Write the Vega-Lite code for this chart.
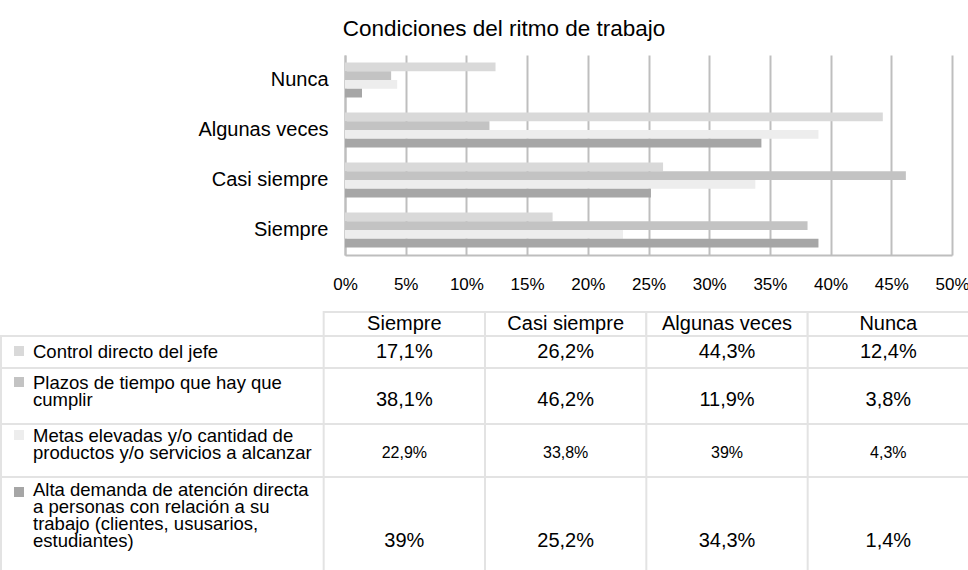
{
  "$schema": "https://vega.github.io/schema/vega-lite/v6.json",
  "padding": {"top": 17, "left": 0, "right": 0, "bottom": 0},
  "background": "white",
  "config": {
    "font": "Liberation Sans, Arial, sans-serif",
    "locale": {"number": {"decimal": ",", "thousands": ".", "grouping": [3], "currency": ["", " €"]}},
    "view": {"stroke": null},
    "axis": {"labelColor": "#000000"},
    "text": {"color": "#000000"}
  },
  "datasets": {
    "valores": [
      {"serie": "Control directo del jefe", "categoria": "Siempre", "valor": 0.171},
      {"serie": "Control directo del jefe", "categoria": "Casi siempre", "valor": 0.262},
      {"serie": "Control directo del jefe", "categoria": "Algunas veces", "valor": 0.443},
      {"serie": "Control directo del jefe", "categoria": "Nunca", "valor": 0.124},
      {"serie": "Plazos de tiempo que hay que cumplir", "categoria": "Siempre", "valor": 0.381},
      {"serie": "Plazos de tiempo que hay que cumplir", "categoria": "Casi siempre", "valor": 0.462},
      {"serie": "Plazos de tiempo que hay que cumplir", "categoria": "Algunas veces", "valor": 0.119},
      {"serie": "Plazos de tiempo que hay que cumplir", "categoria": "Nunca", "valor": 0.038},
      {"serie": "Metas elevadas y/o cantidad de productos y/o servicios a alcanzar", "categoria": "Siempre", "valor": 0.229},
      {"serie": "Metas elevadas y/o cantidad de productos y/o servicios a alcanzar", "categoria": "Casi siempre", "valor": 0.338},
      {"serie": "Metas elevadas y/o cantidad de productos y/o servicios a alcanzar", "categoria": "Algunas veces", "valor": 0.39},
      {"serie": "Metas elevadas y/o cantidad de productos y/o servicios a alcanzar", "categoria": "Nunca", "valor": 0.043},
      {"serie": "Alta demanda de atención directa a personas con relación a su trabajo (clientes, ususarios, estudiantes)", "categoria": "Siempre", "valor": 0.39},
      {"serie": "Alta demanda de atención directa a personas con relación a su trabajo (clientes, ususarios, estudiantes)", "categoria": "Casi siempre", "valor": 0.252},
      {"serie": "Alta demanda de atención directa a personas con relación a su trabajo (clientes, ususarios, estudiantes)", "categoria": "Algunas veces", "valor": 0.343},
      {"serie": "Alta demanda de atención directa a personas con relación a su trabajo (clientes, ususarios, estudiantes)", "categoria": "Nunca", "valor": 0.014}
    ],
    "series": [
      {"serie": "Control directo del jefe", "rotulo": "Control directo del jefe"},
      {"serie": "Plazos de tiempo que hay que cumplir", "rotulo": "Plazos de tiempo que hay que\ncumplir"},
      {"serie": "Metas elevadas y/o cantidad de productos y/o servicios a alcanzar", "rotulo": "Metas elevadas y/o cantidad de\nproductos y/o servicios a alcanzar"},
      {"serie": "Alta demanda de atención directa a personas con relación a su trabajo (clientes, ususarios, estudiantes)", "rotulo": "Alta demanda de atención directa\na personas con relación a su\ntrabajo (clientes, ususarios,\nestudiantes)"}
    ]
  },
  "spacing": 19,
  "resolve": {"scale": {"x": "independent", "y": "independent"}},
  "vconcat": [
    {
      "width": 968,
      "height": 200,
      "title": {"text": "Condiciones del ritmo de trabajo", "fontSize": 22.5, "fontWeight": "normal", "color": "#000000", "anchor": "middle", "frame": "group", "dx": 19, "offset": 15},
      "data": {"name": "valores"},
      "mark": {"type": "bar"},
      "encoding": {
        "y": {"field": "categoria", "type": "nominal", "sort": ["Nunca", "Algunas veces", "Casi siempre", "Siempre"],
              "scale": {"paddingInner": 0.3, "paddingOuter": 0.15},
              "axis": {"title": null, "ticks": false, "offset": -344, "labelFontSize": 20, "labelPadding": 17, "domainColor": "#BEBEBE", "domainWidth": 2, "minExtent": 0, "maxExtent": 0, "labelLimit": 320}},
        "yOffset": {"field": "serie", "type": "nominal",
              "sort": ["Control directo del jefe", "Plazos de tiempo que hay que cumplir", "Metas elevadas y/o cantidad de productos y/o servicios a alcanzar", "Alta demanda de atención directa a personas con relación a su trabajo (clientes, ususarios, estudiantes)"],
              "scale": {"paddingInner": 0, "paddingOuter": 0}},
        "x": {"field": "valor", "type": "quantitative", "scale": {"domain": [0, 0.5], "nice": false, "range": [344, 951]},
              "axis": {"title": null, "format": "%", "values": [0, 0.05, 0.1, 0.15, 0.2, 0.25, 0.3, 0.35, 0.4, 0.45, 0.5], "ticks": false, "grid": true, "gridColor": "#BEBEBE", "gridWidth": 2, "domainColor": "#BEBEBE", "domainWidth": 2, "labelFontSize": 17, "labelPadding": 21, "labelFlush": false}},
        "color": {"field": "serie", "type": "nominal",
              "scale": {"domain": ["Control directo del jefe", "Plazos de tiempo que hay que cumplir", "Metas elevadas y/o cantidad de productos y/o servicios a alcanzar", "Alta demanda de atención directa a personas con relación a su trabajo (clientes, ususarios, estudiantes)"],
                        "range": ["#D9D9D9", "#C3C3C3", "#EDEDED", "#A6A6A6"]},
              "legend": null}
      }
    },
    {
      "spacing": 0,
      "bounds": "flush",
      "resolve": {"scale": {"x": "independent", "y": "independent"}},
      "vconcat": [
        {
          "width": 968,
          "height": 24,
          "data": {"name": "valores"},
          "transform": [{"filter": {"field": "serie", "equal": "Control directo del jefe"}}],
          "layer": [
            {"mark": {"type": "rect", "fill": "#FFFFFF", "stroke": "#E3E3E3", "strokeWidth": 2},
             "encoding": {"x": {"field": "categoria", "type": "nominal", "scale": {"domain": ["r1", "r2", "Siempre", "Casi siempre", "Algunas veces", "Nunca"], "paddingInner": 0, "paddingOuter": 0}, "axis": null}}},
            {"mark": {"type": "text", "fontSize": 20},
             "encoding": {"x": {"field": "categoria", "type": "nominal", "scale": {"domain": ["r1", "r2", "Siempre", "Casi siempre", "Algunas veces", "Nunca"], "paddingInner": 0, "paddingOuter": 0}, "axis": null},
                          "text": {"field": "categoria", "type": "nominal"}}}
          ]
        },
        {
          "width": 968,
          "height": 32,
          "view": {"stroke": "#E3E3E3", "strokeWidth": 2},
          "layer": [
            {"data": {"name": "valores"}, "transform": [{"filter": {"field": "serie", "equal": "Control directo del jefe"}}],
             "mark": {"type": "rule", "color": "#E3E3E3", "strokeWidth": 2},
             "encoding": {"x": {"field": "categoria", "type": "nominal", "bandPosition": 0, "scale": {"domain": ["r1", "r2", "Siempre", "Casi siempre", "Algunas veces", "Nunca"], "paddingInner": 0, "paddingOuter": 0}, "axis": null}}},
            {"data": {"name": "valores"}, "transform": [{"filter": {"field": "serie", "equal": "Control directo del jefe"}}],
             "mark": {"type": "text", "fontSize": 20, "dy": 0},
             "encoding": {"x": {"field": "categoria", "type": "nominal", "scale": {"domain": ["r1", "r2", "Siempre", "Casi siempre", "Algunas veces", "Nunca"], "paddingInner": 0, "paddingOuter": 0}, "axis": null},
                          "text": {"field": "valor", "type": "quantitative", "format": ".3~%"}}},
            {"data": {"name": "series"}, "transform": [{"filter": {"field": "serie", "equal": "Control directo del jefe"}}],
             "mark": {"type": "text", "fontSize": 18.5, "align": "left", "dx": 32, "dy": 0, "lineBreak": "\n", "lineHeight": 17},
             "encoding": {"x": {"datum": "r1", "type": "nominal", "bandPosition": 0, "scale": {"domain": ["r1", "r2", "Siempre", "Casi siempre", "Algunas veces", "Nunca"], "paddingInner": 0, "paddingOuter": 0}, "axis": null},
                          "text": {"field": "rotulo", "type": "nominal"}}},
            {"data": {"name": "series"}, "transform": [{"filter": {"field": "serie", "equal": "Control directo del jefe"}}],
             "mark": {"type": "point", "shape": "square", "filled": true, "size": 100, "opacity": 1, "xOffset": 18, "yOffset": -1},
             "encoding": {"x": {"datum": "r1", "type": "nominal", "bandPosition": 0, "scale": {"domain": ["r1", "r2", "Siempre", "Casi siempre", "Algunas veces", "Nunca"], "paddingInner": 0, "paddingOuter": 0}, "axis": null},
                          "color": {"field": "serie", "type": "nominal", "legend": null}}}
          ]
        },
        {
          "width": 968,
          "height": 56,
          "view": {"stroke": "#E3E3E3", "strokeWidth": 2},
          "layer": [
            {"data": {"name": "valores"}, "transform": [{"filter": {"field": "serie", "equal": "Plazos de tiempo que hay que cumplir"}}],
             "mark": {"type": "rule", "color": "#E3E3E3", "strokeWidth": 2},
             "encoding": {"x": {"field": "categoria", "type": "nominal", "bandPosition": 0, "scale": {"domain": ["r1", "r2", "Siempre", "Casi siempre", "Algunas veces", "Nunca"], "paddingInner": 0, "paddingOuter": 0}, "axis": null}}},
            {"data": {"name": "valores"}, "transform": [{"filter": {"field": "serie", "equal": "Plazos de tiempo que hay que cumplir"}}],
             "mark": {"type": "text", "fontSize": 20, "dy": 4},
             "encoding": {"x": {"field": "categoria", "type": "nominal", "scale": {"domain": ["r1", "r2", "Siempre", "Casi siempre", "Algunas veces", "Nunca"], "paddingInner": 0, "paddingOuter": 0}, "axis": null},
                          "text": {"field": "valor", "type": "quantitative", "format": ".3~%"}}},
            {"data": {"name": "series"}, "transform": [{"filter": {"field": "serie", "equal": "Plazos de tiempo que hay que cumplir"}}],
             "mark": {"type": "text", "fontSize": 18.5, "align": "left", "dx": 32, "dy": -13, "lineBreak": "\n", "lineHeight": 17},
             "encoding": {"x": {"datum": "r1", "type": "nominal", "bandPosition": 0, "scale": {"domain": ["r1", "r2", "Siempre", "Casi siempre", "Algunas veces", "Nunca"], "paddingInner": 0, "paddingOuter": 0}, "axis": null},
                          "text": {"field": "rotulo", "type": "nominal"}}},
            {"data": {"name": "series"}, "transform": [{"filter": {"field": "serie", "equal": "Plazos de tiempo que hay que cumplir"}}],
             "mark": {"type": "point", "shape": "square", "filled": true, "size": 100, "opacity": 1, "xOffset": 18, "yOffset": -14},
             "encoding": {"x": {"datum": "r1", "type": "nominal", "bandPosition": 0, "scale": {"domain": ["r1", "r2", "Siempre", "Casi siempre", "Algunas veces", "Nunca"], "paddingInner": 0, "paddingOuter": 0}, "axis": null},
                          "color": {"field": "serie", "type": "nominal", "legend": null}}}
          ]
        },
        {
          "width": 968,
          "height": 53,
          "view": {"stroke": "#E3E3E3", "strokeWidth": 2},
          "layer": [
            {"data": {"name": "valores"}, "transform": [{"filter": {"field": "serie", "equal": "Metas elevadas y/o cantidad de productos y/o servicios a alcanzar"}}],
             "mark": {"type": "rule", "color": "#E3E3E3", "strokeWidth": 2},
             "encoding": {"x": {"field": "categoria", "type": "nominal", "bandPosition": 0, "scale": {"domain": ["r1", "r2", "Siempre", "Casi siempre", "Algunas veces", "Nunca"], "paddingInner": 0, "paddingOuter": 0}, "axis": null}}},
            {"data": {"name": "valores"}, "transform": [{"filter": {"field": "serie", "equal": "Metas elevadas y/o cantidad de productos y/o servicios a alcanzar"}}],
             "mark": {"type": "text", "fontSize": 16, "dy": 2.5},
             "encoding": {"x": {"field": "categoria", "type": "nominal", "scale": {"domain": ["r1", "r2", "Siempre", "Casi siempre", "Algunas veces", "Nunca"], "paddingInner": 0, "paddingOuter": 0}, "axis": null},
                          "text": {"field": "valor", "type": "quantitative", "format": ".3~%"}}},
            {"data": {"name": "series"}, "transform": [{"filter": {"field": "serie", "equal": "Metas elevadas y/o cantidad de productos y/o servicios a alcanzar"}}],
             "mark": {"type": "text", "fontSize": 18.5, "align": "left", "dx": 32, "dy": -14.5, "lineBreak": "\n", "lineHeight": 17},
             "encoding": {"x": {"datum": "r1", "type": "nominal", "bandPosition": 0, "scale": {"domain": ["r1", "r2", "Siempre", "Casi siempre", "Algunas veces", "Nunca"], "paddingInner": 0, "paddingOuter": 0}, "axis": null},
                          "text": {"field": "rotulo", "type": "nominal"}}},
            {"data": {"name": "series"}, "transform": [{"filter": {"field": "serie", "equal": "Metas elevadas y/o cantidad de productos y/o servicios a alcanzar"}}],
             "mark": {"type": "point", "shape": "square", "filled": true, "size": 100, "opacity": 1, "xOffset": 18, "yOffset": -15.5},
             "encoding": {"x": {"datum": "r1", "type": "nominal", "bandPosition": 0, "scale": {"domain": ["r1", "r2", "Siempre", "Casi siempre", "Algunas veces", "Nunca"], "paddingInner": 0, "paddingOuter": 0}, "axis": null},
                          "color": {"field": "serie", "type": "nominal", "legend": null}}}
          ]
        },
        {
          "width": 968,
          "height": 100,
          "view": {"stroke": "#E3E3E3", "strokeWidth": 2},
          "layer": [
            {"data": {"name": "valores"}, "transform": [{"filter": {"field": "serie", "equal": "Alta demanda de atención directa a personas con relación a su trabajo (clientes, ususarios, estudiantes)"}}],
             "mark": {"type": "rule", "color": "#E3E3E3", "strokeWidth": 2},
             "encoding": {"x": {"field": "categoria", "type": "nominal", "bandPosition": 0, "scale": {"domain": ["r1", "r2", "Siempre", "Casi siempre", "Algunas veces", "Nunca"], "paddingInner": 0, "paddingOuter": 0}, "axis": null}}},
            {"data": {"name": "valores"}, "transform": [{"filter": {"field": "serie", "equal": "Alta demanda de atención directa a personas con relación a su trabajo (clientes, ususarios, estudiantes)"}}],
             "mark": {"type": "text", "fontSize": 20, "dy": 13.5},
             "encoding": {"x": {"field": "categoria", "type": "nominal", "scale": {"domain": ["r1", "r2", "Siempre", "Casi siempre", "Algunas veces", "Nunca"], "paddingInner": 0, "paddingOuter": 0}, "axis": null},
                          "text": {"field": "valor", "type": "quantitative", "format": ".3~%"}}},
            {"data": {"name": "series"}, "transform": [{"filter": {"field": "serie", "equal": "Alta demanda de atención directa a personas con relación a su trabajo (clientes, ususarios, estudiantes)"}}],
             "mark": {"type": "text", "fontSize": 18.5, "align": "left", "dx": 32, "dy": -37, "lineBreak": "\n", "lineHeight": 17},
             "encoding": {"x": {"datum": "r1", "type": "nominal", "bandPosition": 0, "scale": {"domain": ["r1", "r2", "Siempre", "Casi siempre", "Algunas veces", "Nunca"], "paddingInner": 0, "paddingOuter": 0}, "axis": null},
                          "text": {"field": "rotulo", "type": "nominal"}}},
            {"data": {"name": "series"}, "transform": [{"filter": {"field": "serie", "equal": "Alta demanda de atención directa a personas con relación a su trabajo (clientes, ususarios, estudiantes)"}}],
             "mark": {"type": "point", "shape": "square", "filled": true, "size": 100, "opacity": 1, "xOffset": 18, "yOffset": -35},
             "encoding": {"x": {"datum": "r1", "type": "nominal", "bandPosition": 0, "scale": {"domain": ["r1", "r2", "Siempre", "Casi siempre", "Algunas veces", "Nunca"], "paddingInner": 0, "paddingOuter": 0}, "axis": null},
                          "color": {"field": "serie", "type": "nominal", "legend": null}}}
          ]
        }
      ]
    }
  ]
}
